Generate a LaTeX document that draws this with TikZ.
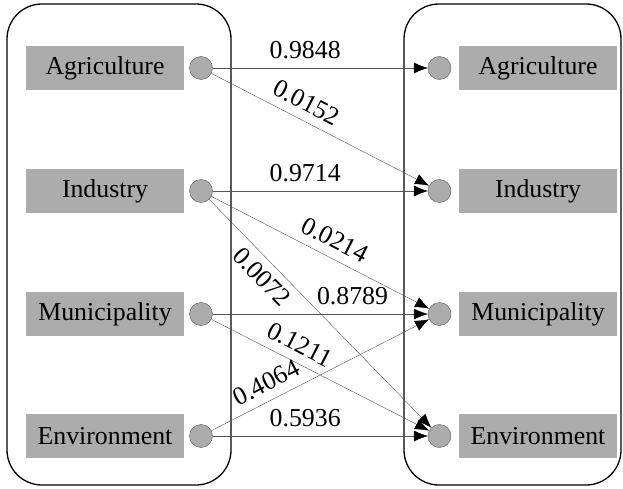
\documentclass[tikz,border=0pt]{standalone}
\usepackage{fontspec}
\setmainfont{Liberation Serif}
\usetikzlibrary{arrows.meta,positioning}
\definecolor{boxgray}{RGB}{172,172,172}
\definecolor{linegray}{RGB}{85,85,85}
\tikzset{
  sector/.style = {fill=boxgray, minimum width=158pt, minimum height=44pt, inner sep=0pt,
                   font=\fontsize{25.8}{30}\selectfont},
  port/.style = {circle, fill=boxgray, draw=linegray, thin, minimum size=23pt, inner sep=0pt},
  flow/.style = {linegray, thin, -{Latex[black,length=14pt,width=11pt]}},
  share/.style = {text=black, font=\fontsize{25.8}{30}\selectfont, sloped, inner sep=0pt}
}
\begin{document}
\begin{tikzpicture}[x=1pt,y=-1pt]
    \useasboundingbox (0,0) rectangle (623,489);

    % Groups
    \draw[line width=1.3pt, rounded corners=35pt] (7,4) rectangle (231,485);
    \draw[line width=1.3pt, rounded corners=35pt] (404,4) rectangle (621,485);

    % Sectors and ports
    \foreach \n/\t/\y in {agr/Agriculture/68, ind/Industry/191, mun/Municipality/314, env/Environment/436}{
        \node[sector] (l\n) at (105,\y) {\t};
        \node[port] (a\n) at (201,\y) {};
        \node[port] (b\n) at (439.5,\y) {};
        \node[sector] (r\n) at (538,\y) {\t};
    }

    % From Agriculture
    \draw[flow] (aagr) -- node[share, pos=.43, above=9pt] {0.9848} (bagr);
    \draw[flow] (aagr) -- node[share, pos=.40, above=9pt] {0.0152} (bind);

    % From Industry
    \draw[flow] (aind) -- node[share, pos=.43, above=9pt] {0.9714} (bind);
    \draw[flow] (aind) -- node[share, pos=.53, above=9pt] {0.0214} (bmun);
    \draw[flow] (aind) -- node[share, pos=.29, below=7pt] {0.0072} (benv);

    % From Municipality
    \draw[flow] (amun) -- node[share, pos=.65, above=9pt] {0.8789} (bmun);
    \draw[flow] (amun) -- node[share, pos=.37, above=9pt] {0.1211} (benv);

    % From Environment
    \draw[flow] (aenv) -- node[share, pos=.29, above=9pt] {0.4064} (bmun);
    \draw[flow] (aenv) -- node[share, pos=.43, above=9pt] {0.5936} (benv);
\end{tikzpicture}
\end{document}
